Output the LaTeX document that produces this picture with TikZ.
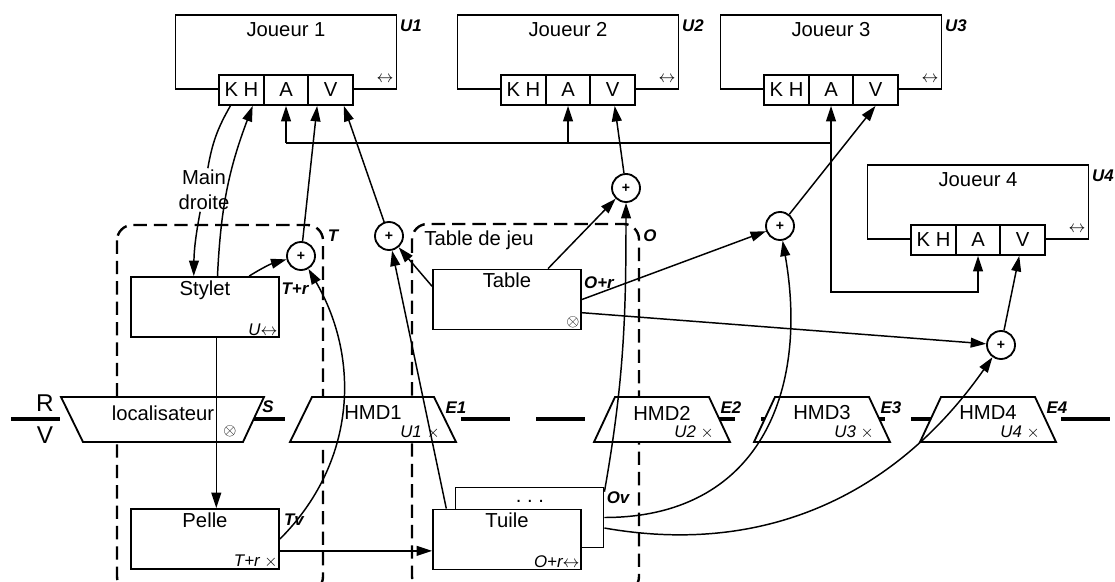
\documentclass[tikz,border=0pt]{standalone}
\usepackage{fontspec}
\setmainfont{Liberation Sans}
\usepackage{tikz}
\usetikzlibrary{arrows.meta, calc}

\begin{document}
\begin{tikzpicture}[x=0.025cm, y=-0.025cm,
        box/.style={rectangle, draw, fill=white, line width=1.3pt, minimum width=3.7cm, minimum height=1.5cm},
        joueur/.style={rectangle, draw, line width=1.3pt, minimum width=5.525cm, minimum height=1.85cm},
        cell/.style={rectangle, draw, fill=white, line width=1.3pt, minimum width=1.11cm, minimum height=0.75cm, inner sep=0pt, font=\Large},
        ttl/.style={anchor=north, inner sep=3pt, font=\Large},
        corner/.style={anchor=south east, inner sep=1.5pt, font=\large},
        txt/.style={inner sep=1pt, font=\Large},
        tag/.style={inner sep=1pt, font=\large\bfseries\itshape},
        sum/.style={circle, draw, fill=white, line width=1.3pt, minimum size=0.7cm, inner sep=0pt, font=\normalsize\bfseries},
        trap/.style={draw, fill=white, line width=1.3pt},
        grp/.style={line width=1.7pt, dash pattern=on 9.5pt off 5pt, rounded corners=11pt},
        rv/.style={line width=3.4pt, dash pattern=on 1.225cm off 0.65cm},
        conn/.style={line width=1.05pt, -{Triangle[length=11pt, width=7pt]}}
    ]
    \useasboundingbox (0,0) rectangle (1115,582);

    \draw[grp] (117,225) rectangle (323,592);
    \draw[grp] (412,224) rectangle (639,592);
    \draw[rv] (11,419) -- (1110,419);

    \draw[trap] (83,442) -- (61,397) -- (264,397) -- (243,442) -- cycle;
    \node[txt] (loc) at (163,413) {localisateur};
    \node[txt, font=\large] (locx) at (230,431) {$\otimes$};
    \node[tag] (tS) at (268,407) {S};
    \draw[trap] (290,442) -- (312,397) -- (434,397) -- (456,442) -- cycle;
    \node[txt] (hmd1) at (373,413) {HMD1};
    \node[txt, font=\large] (hmd1u) at (420,432) {\textit{U1} $\times$};
    \node[tag] (e1) at (456,408) {E1};
    \foreach \i/\x in {2/662, 3/822, 4/988} {
        \draw[trap] (\x-68,442) -- (\x-47,397) -- (\x+47,397) -- (\x+68,442) -- cycle;
        \node[txt] (hmd\i) at (\x,413) {HMD\i};
        \node[txt, font=\large] (hmd\i u) at (\x+32,432) {\textit{U\i} $\times$};
        \node[tag] (e\i) at (\x+69,408) {E\i};
    }
    \node[txt, font=\LARGE] (r) at (45,403) {R};
    \node[txt, font=\LARGE] (v) at (45,435) {V};

    \foreach \i/\x/\y in {1/286/52, 2/568/52, 3/831/52, 4/978/202} {
        \node[joueur] (j\i) at (\x,\y) {};
        \node[txt] (j\i t) at (\x,\y-22) {Joueur \i};
        \node[cell] (j\i kh) at (\x-44.5,\y+38) {K H};
        \node[cell] (j\i a) at (\x,\y+38) {A};
        \node[cell] (j\i v) at (\x+44.5,\y+38) {V};
        \node[txt, font=\large] (j\i s) at (\x+99,\y+27) {$\leftrightarrow$};
        \node[tag] (u\i) at (\x+125,\y-26) {U\i};
    }

    \node[box, label={[ttl]north:Stylet}, label={[corner]south east:{\itshape U}$\leftrightarrow$}] (stylet) at (205,307) {};
    \node[box, label={[ttl]north:Pelle}, label={[corner]south east:{\itshape T+r} $\times$}] (pelle) at (205,539) {};
    \node[box, label={[ttl]north:Table}, label={[corner]south east:$\otimes$}] (table) at (507,299.5) {};
    \node[box] (tuileb) at (529.5,517.5) {};
    \node[txt] (dots) at (530,501) {.\ .\ .};
    \node[box, label={[ttl]north:Tuile}, label={[corner]south east:{\itshape O+r}$\leftrightarrow$}] (tuile) at (507,539.5) {};

    \node[sum] (pt) at (301,256) {+};
    \node[sum] (p1) at (389,236) {+};
    \node[sum] (p2) at (626,188) {+};
    \node[sum] (p3) at (780,226) {+};
    \node[sum] (p4) at (1001,345) {+};

    \node[tag] (tT) at (333,236) {T};
    \node[tag] (tO) at (650,236) {O};
    \node[tag] (ttr) at (295,289) {T+r};
    \node[tag] (ttv) at (294,520) {Tv};
    \node[tag] (tor) at (599,283) {O+r};
    \node[tag] (tov) at (618,498) {Ov};
    \node[txt] (jeu) at (479,240) {Table de jeu};
    \node[txt, align=center] (main) at (204,190) {Main\\droite};

    \coordinate (bus) at (0,143);
    \coordinate (turn) at (0,292);
    \draw[line width=1.05pt] (j1a |- bus) -- (j3a |- bus);
    \foreach \i in {1,2,3} \draw[conn] (j\i a |- bus) -- (j\i a);
    \draw[conn] (j3a |- bus) -- (j3a |- turn) -| (j4a);

    \draw[line width=1.05pt] (j1kh.-125) to[bend right=10] (main.80);
    \draw[conn] (main.-100) to[bend right=5] (stylet.110);
    \draw[conn] (stylet.68) to[bend left=9] (j1kh.-55);
    \draw[conn] (stylet.35) to[bend left=8] (pt);
    \draw[conn] (pt) -- (j1v.-130);
    \draw[conn] (pelle.east) to[out=45, in=-60] (pt);
    \draw[conn] (stylet.-70) -- (stylet.-70 |- pelle.north);
    \draw[conn] (pelle.-9) -- (pelle.-9 -| tuile.west);
    \draw[conn] (tuile.153) -- (p1);
    \draw[conn] (table.170) -- (p1);
    \draw[conn] (p1) -- (j1v.-50);
    \draw[conn] (table.37) -- (p2);
    \draw[conn] (tuileb.19) to[out=80, in=-90] (p2);
    \draw[conn] (p2) -- (j2v);
    \draw[conn] (table.east) -- (p3);
    \draw[conn] (p3) -- (j3v.south);
    \draw[conn] (tuileb.east) to[out=0, in=-80, looseness=1.2] (p3);
    \draw[conn] (table.-10) -- (p4);
    \draw[conn] (tuileb.-8) to[out=-10, in=-125] (p4);
    \draw[conn] (p4) -- (j4v);
\end{tikzpicture}
\end{document}
